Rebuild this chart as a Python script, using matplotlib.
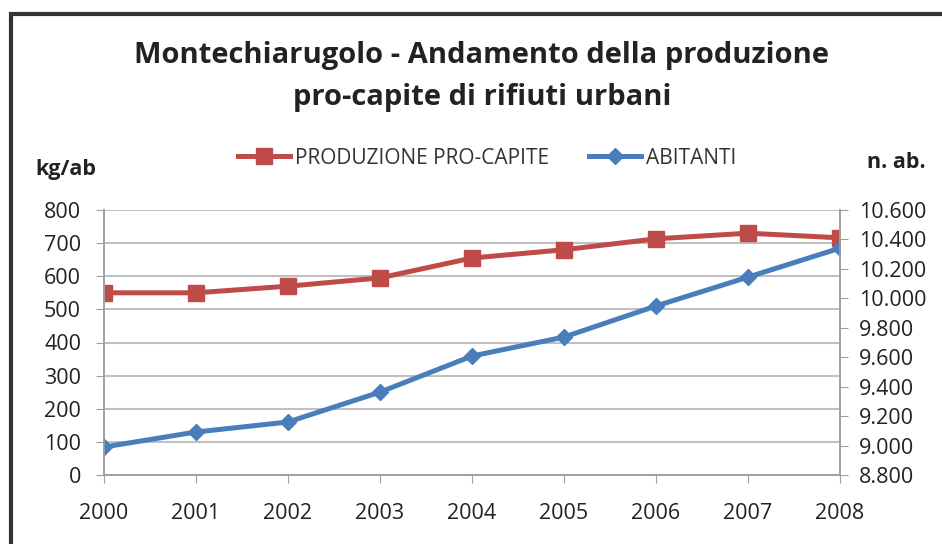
import matplotlib
matplotlib.use("Agg")
import matplotlib.pyplot as plt
from matplotlib.ticker import FuncFormatter
from matplotlib.patches import Rectangle

plt.rcParams['font.family'] = ['Open Sans', 'DejaVu Sans']

# data
anni = ['2000', '2001', '2002', '2003', '2004', '2005', '2006', '2007', '2008']
produzione = [550, 550, 570, 595, 655, 680, 713, 730, 716]
abitanti = [8990, 9092, 9160, 9363, 9608, 9737, 9948, 10144, 10341]

rosso = '#be4b48'
blu = '#4a7ebb'

fig = plt.figure(figsize=(9.42, 5.44), dpi=100)
ax = fig.add_axes([104/942, 1 - 475/544, (840-104)/942, (475-210)/544])
ax2 = ax.twinx()

x = list(range(len(anni)))
l1, = ax.plot(x, produzione, color=rosso, lw=3.6, marker='s', ms=12,
              label='PRODUZIONE PRO-CAPITE')
l2, = ax2.plot(x, abitanti, color=blu, lw=3.6, marker='D', ms=8.5,
               label='ABITANTI')

ax.set_xlim(0, len(anni) - 1)
ax.set_ylim(0, 800)
ax.set_yticks(range(0, 801, 100))
ax2.set_ylim(8800, 10600)
ax2.set_yticks(range(8800, 10601, 200))
ax2.yaxis.set_major_formatter(FuncFormatter(lambda v, p: f'{int(v):,}'.replace(',', '.')))
ax.set_xticks(x)
ax.set_xticklabels(anni)

ax.grid(axis='y', color='#c0c0c0', lw=1.5)
ax.set_axisbelow(True)
for a in (ax, ax2):
    a.spines['top'].set_visible(False)
    for s in ('left', 'right', 'bottom'):
        a.spines[s].set_color('#a0a0a0')
        a.spines[s].set_linewidth(1.2)
    a.tick_params(colors='#a0a0a0', labelcolor='#222222', labelsize=15.5, length=5.5)
ax.tick_params(axis='x', pad=15)
ax.tick_params(axis='y', pad=11)
ax2.tick_params(axis='y', pad=8)
ax2.set_zorder(ax.get_zorder() + 1)

fig.text(482/942, 1 - 55/544, 'Montechiarugolo - Andamento della produzione',
         ha='center', va='center', fontsize=21, fontweight='bold', color='#222222')
fig.text(482/942, 1 - 97/544, 'pro-capite di rifiuti urbani',
         ha='center', va='center', fontsize=21, fontweight='bold', color='#222222')
fig.text(35/942, 1 - 170/544, 'kg/ab', ha='left', va='center', fontsize=15.5,
         fontweight='bold', color='#222222')
fig.text(926/942, 1 - 163/544, 'n. ab.', ha='right', va='center', fontsize=15.5,
         fontweight='bold', color='#222222')

fig.legend(handles=[l1, l2], loc='center', bbox_to_anchor=(487/942, 1 - 158/544),
           ncol=2, frameon=False, fontsize=15, handlelength=2.5,
           columnspacing=1.9, handletextpad=0.25, labelcolor='#333333')

fig.patches.append(Rectangle((11/942, -0.1), 1.2, 1 - 14/544 + 0.1,
                             transform=fig.transFigure, fill=False,
                             ec='#333333', lw=3))

fig.savefig('out.png', dpi=100)
